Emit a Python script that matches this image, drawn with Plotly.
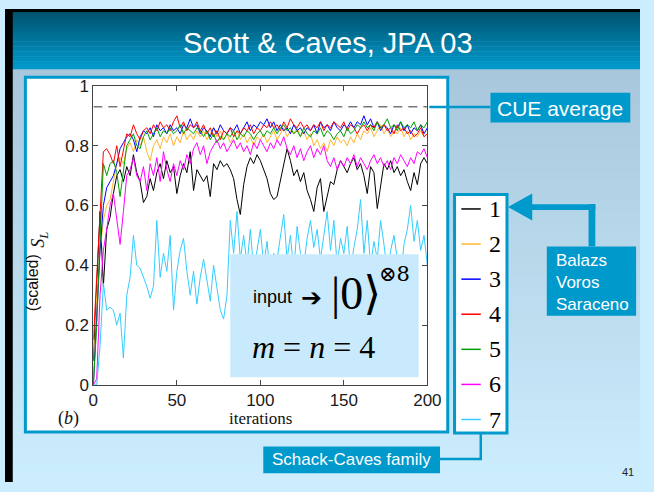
import plotly.graph_objects as go

W, H = 654, 492

# ---------------- data ----------------
iterations = list(range(0, 201, 2))
series_names = ["1", "2", "3", "4", "5", "6", "7"]
series_colors = ["#000000", "#ffb52e", "#0000ff", "#ff0000", "#00a000", "#ff00ff", "#33ccff"]

s1 = [0.08, 0.35, 0.58, 0.33, 0.52, 0.56, 0.64, 0.70, 0.72, 0.68, 0.73, 0.70, 0.77, 0.71, 0.68, 0.61,
      0.63, 0.69, 0.65, 0.71, 0.74, 0.69, 0.75, 0.71, 0.73, 0.64, 0.70, 0.74, 0.71, 0.78, 0.65, 0.72,
      0.70, 0.68, 0.70, 0.63, 0.74, 0.72, 0.75, 0.73, 0.74, 0.72, 0.69, 0.62, 0.57, 0.67, 0.73, 0.76,
      0.74, 0.77, 0.75, 0.72, 0.69, 0.64, 0.62, 0.63, 0.68, 0.74, 0.79, 0.75, 0.70, 0.72, 0.68, 0.71,
      0.65, 0.62, 0.58, 0.66, 0.69, 0.58, 0.63, 0.68, 0.67, 0.72, 0.75, 0.73, 0.71, 0.74, 0.76, 0.72,
      0.74, 0.70, 0.64, 0.73, 0.71, 0.59, 0.66, 0.74, 0.72, 0.75, 0.71, 0.73, 0.70, 0.72, 0.68, 0.65,
      0.71, 0.67, 0.74, 0.76, 0.74]
s2 = [0.00, 0.30, 0.45, 0.55, 0.60, 0.62, 0.68, 0.74, 0.76, 0.74, 0.79, 0.81, 0.78, 0.82, 0.80, 0.83,
      0.78, 0.75, 0.80, 0.82, 0.79, 0.83, 0.81, 0.84, 0.80, 0.83, 0.81, 0.85, 0.82, 0.84, 0.82, 0.85,
      0.83, 0.85, 0.82, 0.84, 0.86, 0.83, 0.85, 0.82, 0.84, 0.81, 0.83, 0.85, 0.82, 0.84, 0.81, 0.83,
      0.80, 0.83, 0.82, 0.84, 0.81, 0.83, 0.85, 0.82, 0.84, 0.86, 0.83, 0.85, 0.84, 0.86, 0.83, 0.85,
      0.82, 0.84, 0.80, 0.82, 0.79, 0.81, 0.78, 0.82, 0.80, 0.83, 0.81, 0.82, 0.80, 0.83, 0.81, 0.84,
      0.82, 0.85, 0.84, 0.86, 0.83, 0.85, 0.87, 0.84, 0.86, 0.83, 0.85, 0.84, 0.86, 0.83, 0.85, 0.82,
      0.84, 0.83, 0.85, 0.83, 0.84]
s3 = [0.00, 0.25, 0.45, 0.60, 0.66, 0.68, 0.70, 0.74, 0.79, 0.81, 0.83, 0.84, 0.82, 0.78, 0.83, 0.85,
      0.84, 0.86, 0.83, 0.87, 0.85, 0.86, 0.84, 0.87, 0.85, 0.86, 0.84, 0.87, 0.86, 0.89, 0.86, 0.87,
      0.84, 0.86, 0.85, 0.83, 0.86, 0.84, 0.87, 0.85, 0.84, 0.86, 0.85, 0.87, 0.84, 0.86, 0.88, 0.85,
      0.87, 0.86, 0.88, 0.87, 0.89, 0.86, 0.88, 0.85, 0.87, 0.85, 0.86, 0.84, 0.87, 0.85, 0.86, 0.84,
      0.86, 0.85, 0.87, 0.84, 0.88, 0.86, 0.87, 0.85, 0.88, 0.86, 0.85, 0.87, 0.86, 0.88, 0.86, 0.88,
      0.87, 0.90, 0.87, 0.89, 0.86, 0.88, 0.85, 0.87, 0.86, 0.84, 0.87, 0.86, 0.88, 0.85, 0.87, 0.84,
      0.86, 0.85, 0.87, 0.84, 0.86]
s4 = [0.15, 0.35, 0.58, 0.78, 0.79, 0.77, 0.74, 0.80, 0.73, 0.78, 0.84, 0.83, 0.87, 0.84, 0.82, 0.85,
      0.86, 0.84, 0.87, 0.85, 0.88, 0.86, 0.87, 0.85, 0.88, 0.90, 0.86, 0.88, 0.85, 0.87, 0.86, 0.88,
      0.85, 0.87, 0.84, 0.86, 0.83, 0.85, 0.82, 0.85, 0.84, 0.86, 0.83, 0.85, 0.84, 0.86, 0.85, 0.87,
      0.84, 0.86, 0.85, 0.87, 0.86, 0.88, 0.86, 0.87, 0.85, 0.88, 0.86, 0.89, 0.87, 0.86, 0.88, 0.86,
      0.87, 0.85, 0.87, 0.86, 0.88, 0.85, 0.87, 0.86, 0.88, 0.87, 0.86, 0.88, 0.85, 0.87, 0.86, 0.84,
      0.86, 0.87, 0.85, 0.87, 0.86, 0.88, 0.86, 0.87, 0.85, 0.86, 0.84, 0.87, 0.85, 0.86, 0.84, 0.85,
      0.83, 0.84, 0.86, 0.83, 0.84]
s5 = [0.00, 0.20, 0.48, 0.74, 0.70, 0.74, 0.75, 0.71, 0.63, 0.72, 0.80, 0.82, 0.84, 0.80, 0.79, 0.83,
      0.85, 0.82, 0.84, 0.86, 0.83, 0.85, 0.84, 0.86, 0.84, 0.85, 0.87, 0.84, 0.86, 0.85, 0.84, 0.86,
      0.85, 0.83, 0.85, 0.82, 0.84, 0.81, 0.83, 0.82, 0.84, 0.83, 0.85, 0.82, 0.84, 0.83, 0.85, 0.84,
      0.82, 0.84, 0.85, 0.83, 0.85, 0.84, 0.86, 0.84, 0.86, 0.87, 0.85, 0.86, 0.84, 0.85, 0.83, 0.86,
      0.84, 0.83, 0.85, 0.84, 0.86, 0.83, 0.85, 0.84, 0.82, 0.84, 0.85, 0.83, 0.86, 0.84, 0.85, 0.87,
      0.86, 0.88, 0.86, 0.87, 0.85, 0.88, 0.86, 0.87, 0.89, 0.86, 0.87, 0.85, 0.88, 0.86, 0.87, 0.86,
      0.88, 0.85, 0.87, 0.86, 0.88]
s6 = [0.00, 0.02, 0.30, 0.45, 0.52, 0.60, 0.64, 0.55, 0.47, 0.58, 0.70, 0.72, 0.76, 0.70, 0.68, 0.73,
      0.65, 0.74, 0.70, 0.76, 0.68, 0.78, 0.72, 0.68, 0.74, 0.70, 0.75, 0.72, 0.77, 0.74, 0.79, 0.81,
      0.77, 0.80, 0.74, 0.78, 0.80, 0.82, 0.79, 0.81, 0.78, 0.80, 0.82, 0.79, 0.81, 0.78, 0.80, 0.77,
      0.81, 0.79, 0.82, 0.80, 0.78, 0.81, 0.79, 0.82, 0.80, 0.83, 0.79, 0.77, 0.80, 0.76, 0.79, 0.75,
      0.78, 0.80, 0.76, 0.79, 0.77, 0.80, 0.75, 0.73, 0.76, 0.72, 0.75, 0.73, 0.76, 0.74, 0.77, 0.73,
      0.76, 0.74, 0.72, 0.75, 0.77, 0.74, 0.76, 0.73, 0.75, 0.72, 0.76, 0.74, 0.77, 0.75, 0.73, 0.76,
      0.74, 0.78, 0.77, 0.79, 0.76]
s7 = [0.00, 0.00, 0.13, 0.34, 0.25, 0.26, 0.25, 0.20, 0.24, 0.09, 0.30, 0.36, 0.50, 0.40, 0.39, 0.36,
      0.33, 0.29, 0.33, 0.55, 0.36, 0.44, 0.38, 0.50, 0.25, 0.38, 0.45, 0.49, 0.38, 0.30, 0.38, 0.27,
      0.36, 0.42, 0.35, 0.28, 0.40, 0.32, 0.25, 0.22, 0.30, 0.55, 0.44, 0.58, 0.42, 0.50, 0.40, 0.52,
      0.38, 0.45, 0.52, 0.40, 0.48, 0.36, 0.44, 0.42, 0.50, 0.57, 0.42, 0.50, 0.38, 0.53, 0.44, 0.40,
      0.49, 0.55, 0.46, 0.52, 0.42, 0.50, 0.58, 0.45, 0.55, 0.40, 0.49, 0.44, 0.53, 0.38, 0.46, 0.52,
      0.62, 0.44, 0.55, 0.40, 0.48, 0.42, 0.55, 0.47, 0.38, 0.45, 0.50, 0.42, 0.36, 0.47, 0.52, 0.60,
      0.48, 0.55, 0.45, 0.50, 0.40]
series_values = [s1, s2, s3, s4, s5, s6, s7]
cue_average = 0.93

x_ticks = [0, 50, 100, 150, 200]
y_ticks = [0, 0.2, 0.4, 0.6, 0.8, 1]
y_tick_text = ["0", "0.2", "0.4", "0.6", "0.8", "1"]

SANS = "Liberation Sans, Arial, sans-serif"
SERIF = "Liberation Serif, Times New Roman, serif"
CYAN = "#0099cc"


def X(px):
    return px / W


def Y(py):
    return 1 - py / H


def hex2rgb(h):
    h = h.lstrip("#")
    return tuple(int(h[i:i + 2], 16) for i in (0, 2, 4))


def mix(c0, c1, t):
    a, b = hex2rgb(c0), hex2rgb(c1)
    return "rgb(%d,%d,%d)" % tuple(round(a[i] + (b[i] - a[i]) * t) for i in range(3))


shapes = []


def rect(x0, y0, x1, y1, fill=None, line=None, lw=0, layer="below"):
    shapes.append(dict(type="rect", xref="paper", yref="paper",
                       x0=X(x0), x1=X(x1), y0=Y(y1), y1=Y(y0),
                       fillcolor=fill if fill else "rgba(0,0,0,0)",
                       line=dict(color=line if line else "rgba(0,0,0,0)", width=lw),
                       layer=layer))


def seg(x0, y0, x1, y1, color, lw, layer="below"):
    shapes.append(dict(type="line", xref="paper", yref="paper",
                       x0=X(x0), x1=X(x1), y0=Y(y0), y1=Y(y1),
                       line=dict(color=color, width=lw), layer=layer))


def gradient(y0, y1, c0, c1, n):
    step = (y1 - y0) / n
    for i in range(n):
        rect(0, y0 + i * step, W, y0 + (i + 1) * step + 0.6, fill=mix(c0, c1, i / (n - 1)))


# background
gradient(62, H, "#a9c7dc", "#cbedfd", 40)
gradient(0, 62, "#00506a", "#0099cc", 24)
rect(0, 0, 8, H, fill="#000000")
rect(0, 0, W, 3, fill="#000000")

# white figure frame
rect(21, 71, 456, 440, fill="#ffffff", line=CYAN, lw=3)

# inset text box (covers traces)
rect(232, 255, 426, 383, fill="#c9eafc", layer="above")

# CUE label box + connector
seg(437, 102, 500, 102, CYAN, 2.5)
rect(500, 87, 644, 118, fill=CYAN)

# legend box
rect(463, 193, 517, 441, fill="#ffffff", line=CYAN, lw=3)
for k, (nm, col) in enumerate(zip(series_names, series_colors)):
    yy = 208 + k * 36.5
    seg(470, yy, 490, yy, col, 1.5)

# Schack-Caves connector + box
shapes.append(dict(type="path", xref="paper", yref="paper",
                   path="M %f %f L %f %f L %f %f" % (X(448), Y(468), X(490), Y(468), X(490), Y(441)),
                   line=dict(color=CYAN, width=2.5), layer="below"))
rect(266, 455, 448, 483, fill=CYAN)

# Balazs box + arrow
rect(558, 247, 650, 319, fill=CYAN)
rect(601, 203, 608, 247, fill=CYAN)
rect(540, 203, 608, 209, fill=CYAN)
shapes.append(dict(type="path", xref="paper", yref="paper",
                   path="M %f %f L %f %f L %f %f Z" % (X(518), Y(206), X(543), Y(192), X(543), Y(220)),
                   fillcolor=CYAN, line=dict(color=CYAN, width=0), layer="below"))

# ---------------- traces ----------------
fig = go.Figure()
fig.add_trace(go.Scatter(x=[0, 200], y=[cue_average, cue_average], mode="lines",
                         line=dict(color="#333333", width=1, dash="9px,6px"),
                         showlegend=False, hoverinfo="skip"))
for nm, col, vals in zip(series_names, series_colors, series_values):
    fig.add_trace(go.Scatter(x=iterations, y=vals, mode="lines", name=nm,
                             line=dict(color=col, width=1), showlegend=False))

annotations = []


def ann(text, px, py, size, color="#000000", family=SANS, xanchor="center", yanchor="middle",
        angle=0, align="center"):
    annotations.append(dict(text=text, x=X(px), y=Y(py), xref="paper", yref="paper",
                            xanchor=xanchor, yanchor=yanchor, showarrow=False, textangle=angle,
                            align=align, font=dict(size=size, color=color, family=family)))


ann("Scott &amp; Caves, JPA 03", 333, 35, 29, "#ffffff")
ann("CUE average", 572, 103, 21, "#ffffff")
ann("Schack-Caves family", 357, 469, 17, "#ffffff")
ann("Balazs<br>Voros<br>Saraceno", 565, 284, 17, "#ffffff", xanchor="left", align="left")
ann("41", 642, 482, 11, "#222222")
for k, nm in enumerate(series_names):
    ann(nm, 496, 208 + k * 36.5, 24, "#000000", SERIF, xanchor="left")
ann("iterations", 263, 426, 17, "#111111", SERIF)
ann("(<i>b</i>)", 65, 426, 18, "#111111", SERIF)
ann("(scaled)", 29, 285, 16, "#111111", SANS, angle=-90)
ann("<i>S</i><sub><i>L</i></sub>", 36, 240, 18, "#111111", SERIF, angle=-90)
ann("input", 253, 300, 18, "#000000", SANS, xanchor="left")
ann("<b>➔</b>", 316, 300, 25, "#000000", "DejaVu Sans")
ann("|0⟩", 361, 296, 46, "#000000", "Liberation Serif, DejaVu Serif")
ann("⊗8", 401, 276, 21, "#000000", "DejaVu Serif")
ann("<i>m</i> = <i>n</i> = 4", 252, 352, 32, "#000000", SERIF, xanchor="left")

axis_common = dict(showgrid=False, zeroline=False, showline=True, linecolor="#444444", linewidth=1,
                   mirror="ticks", ticks="inside", ticklen=5, tickcolor="#444444",
                   tickfont=dict(family=SANS, size=17, color="#1a1a1a"))

fig.update_layout(
    width=W, height=H, margin=dict(l=0, r=0, t=0, b=0),
    paper_bgcolor="#cbedfd", plot_bgcolor="rgba(0,0,0,0)",
    xaxis=dict(domain=[X(91), X(435)], range=[0, 200], tickvals=x_ticks,
               ticktext=[str(v) for v in x_ticks], **axis_common),
    yaxis=dict(domain=[Y(391), Y(80)], range=[0, 1], tickvals=y_ticks, ticktext=y_tick_text,
               **axis_common),
    shapes=shapes, annotations=annotations, showlegend=False,
)

fig.write_html("out.html")
